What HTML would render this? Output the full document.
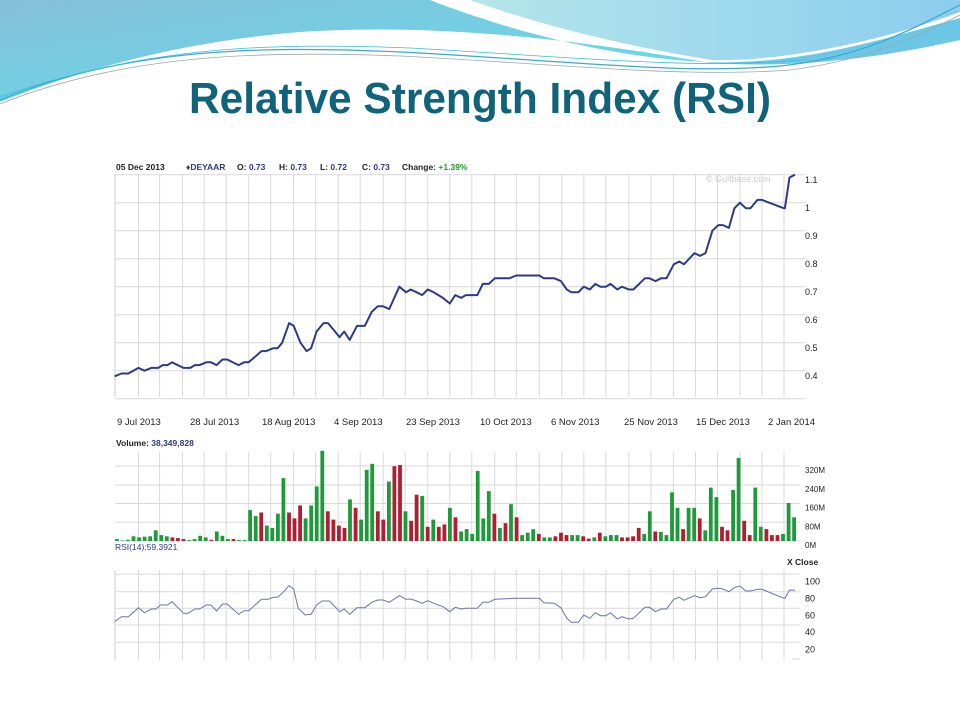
<!DOCTYPE html>
<html><head><meta charset="utf-8"><style>
html,body{margin:0;padding:0;background:#fff;}
svg{display:block;font-family:"Liberation Sans",Arial,sans-serif;}
</style></head><body>
<svg id="s" width="960" height="720" viewBox="0 0 960 720" xmlns="http://www.w3.org/2000/svg">
<defs>
<linearGradient id="g1" x1="0" y1="0" x2="1" y2="1"><stop offset="0" stop-color="#86bfd8"/><stop offset="1" stop-color="#5ee0f0"/></linearGradient>
<linearGradient id="g2" x1="0" y1="0" x2="1" y2="0"><stop offset="0" stop-color="#b4e6ea"/><stop offset="1" stop-color="#8ccdee"/></linearGradient>
</defs>
<path d="M0,0 H430 C520,35 620,58 705,62 C600,44 450,22 300,32 C180,42 80,70 0,102 Z" fill="url(#g1)"/>
<path d="M470,0 H960 V12 C880,42 780,62 712,60 C620,45 540,25 470,0 Z" fill="url(#g2)"/>
<path d="M700,62 C800,66 880,40 960,18 V40 C880,58 790,70 700,62 Z" fill="#6cc6e6"/>
<path d="M0,100 C120,50 250,45 400,52 C560,60 680,75 780,66 C860,58 910,30 960,5" fill="none" stroke="#3aa8d0" stroke-width="1.2"/>
<path d="M0,104 C120,56 250,50 400,56 C560,64 680,78 790,70 C870,60 920,35 960,15" fill="none" stroke="#9aa8b0" stroke-width="0.8"/>
<path d="M0,97 C140,48 260,42 410,48 C560,56 690,70 800,60" fill="none" stroke="#2ec0d8" stroke-width="0.8"/>
<text x="480" y="113" text-anchor="middle" font-size="44" font-weight="bold" fill="#11637a" textLength="582" lengthAdjust="spacingAndGlyphs">Relative Strength Index (RSI)</text>
<g font-size="8.5" font-weight="bold" fill="#222">
<text x="116" y="170">05 Dec 2013</text>
<text x="186" y="170" fill="#2e3a86">♦DEYAAR</text>
<text x="237" y="170">O: <tspan fill="#2e3a86">0.73</tspan></text>
<text x="279" y="170">H: <tspan fill="#2e3a86">0.73</tspan></text>
<text x="320" y="170">L: <tspan fill="#2e3a86">0.72</tspan></text>
<text x="362" y="170">C: <tspan fill="#2e3a86">0.73</tspan></text>
<text x="402" y="170">Change: <tspan fill="#1f9a2a">+1.39%</tspan></text>
</g>
<g id="chart"></g>
</svg>
<script>
var NS="http://www.w3.org/2000/svg",C=document.getElementById("chart");
function el(t,a,txt){var e=document.createElementNS(NS,t);for(var k in a)e.setAttribute(k,a[k]);if(txt!=null)e.textContent=txt;C.appendChild(e);return e;}
var zx=[62,108,158,205,253,302,350,400,448,497,545,595,643,692,740,788,838,885,935,984,1032,1080,1130,1178,1227,1275,1323,1372,1420,1468];
function X(z){return 110+z/2.178;}
var G="#d9d9d9";
zx.forEach(function(z){el("line",{x1:X(z),y1:174,x2:X(z),y2:397,stroke:G,"stroke-width":1});});
for(var v=1.1;v>0.25;v-=0.1){var y=202.7+(1.0-v)*280;el("line",{x1:115,y1:y,x2:806,y2:y,stroke:G,"stroke-width":1});}
el("line",{x1:115,y1:174,x2:115,y2:397,stroke:"#ccc"});
[["1.1",183],["1",211],["0.9",239],["0.8",267],["0.7",295],["0.6",323],["0.5",351],["0.4",379]].forEach(function(a){el("text",{x:805,y:a[1],"font-size":9,fill:"#222"},a[0]);});
el("text",{x:706,y:182,"font-size":9,fill:"#ccc"},"© Gulfbase.com");
var P=[[10,.38],[25,.39],[40,.39],[62,.41],[75,.40],[90,.41],[105,.41],[115,.42],[125,.42],[135,.43],[160,.41],[175,.41],[185,.42],[195,.42],[210,.43],[220,.43],[232,.42],[245,.44],[255,.44],[280,.42],[292,.43],[302,.43],[330,.47],[340,.47],[355,.48],[365,.48],[375,.50],[390,.57],[400,.56],[415,.50],[428,.47],[438,.48],[450,.54],[465,.57],[475,.57],[485,.55],[500,.52],[510,.54],[522,.51],[538,.56],[555,.56],[570,.61],[583,.63],[595,.63],[608,.62],[630,.70],[645,.68],[655,.69],[668,.68],[680,.67],[692,.69],[705,.68],[725,.66],[740,.64],[752,.67],[765,.66],[775,.67],[800,.67],[812,.71],[825,.71],[838,.73],[870,.73],[885,.74],[935,.74],[945,.73],[968,.73],[982,.72],[995,.69],[1005,.68],[1020,.68],[1032,.70],[1045,.69],[1057,.71],[1068,.70],[1080,.70],[1090,.71],[1105,.69],[1115,.70],[1130,.69],[1140,.69],[1165,.73],[1175,.73],[1188,.72],[1200,.73],[1212,.73],[1228,.78],[1240,.79],[1250,.78],[1273,.82],[1285,.81],[1297,.82],[1312,.90],[1325,.92],[1335,.92],[1348,.91],[1360,.98],[1372,1.00],[1385,.98],[1395,.98],[1410,1.01],[1420,1.01],[1468,.98],[1470,.98],[1480,1.09],[1492,1.10]];
el("polyline",{points:P.map(function(p){return X(p[0]).toFixed(1)+","+(202.7+(1-p[1])*280).toFixed(1);}).join(" "),fill:"none",stroke:"#2e3a86","stroke-width":2,"stroke-linejoin":"round"});
[["9 Jul 2013",117],["28 Jul 2013",190],["18 Aug 2013",262],["4 Sep 2013",334],["23 Sep 2013",406],["10 Oct 2013",480],["6 Nov 2013",551],["25 Nov 2013",624],["15 Dec 2013",696],["2 Jan 2014",768]].forEach(function(a){el("text",{x:a[1],y:425,"font-size":9.5,fill:"#222"},a[0]);});
var vt=el("text",{x:116,y:446,"font-size":8.5,"font-weight":"bold",fill:"#222"},"Volume: ");
var ts=document.createElementNS(NS,"tspan");ts.setAttribute("fill","#2e3a86");ts.textContent="38,349,828";vt.appendChild(ts);
zx.forEach(function(z){el("line",{x1:X(z),y1:452,x2:X(z),y2:541,stroke:G});});
[[466,"320M"],[485,"240M"],[503.5,"160M"],[522.3,"80M"],[541,"0M"]].forEach(function(a){el("line",{x1:115,y1:a[0],x2:800,y2:a[0],stroke:G});el("text",{x:805,y:a[0]+7,"font-size":8,fill:"#222"},a[1]);});
var V="g8 g2 g5 g20 g15 g18 g20 g45 g25 g20 r15 r12 r8 g4 g8 g22 g15 r5 g40 g22 g8 r8 g4 g4 g130 g105 r120 g65 g55 g115 g265 r120 r95 r150 g95 g150 g230 g380 r125 r90 r65 r55 g175 r140 g90 g300 g325 r125 r90 g250 r315 r320 g125 r85 r195 g190 r60 g90 r60 r70 g140 r100 g40 g50 g30 g295 g95 g210 r115 g55 r75 g155 r100 g25 g35 g50 r30 g15 g15 r20 r35 r25 g25 g25 r20 r10 g15 r35 g20 g25 g25 r15 r15 r20 r55 g30 g125 r40 g38 g25 g205 g140 r50 g140 g140 r95 g45 g225 g185 r60 r45 g215 g350 r85 r25 g225 g60 r50 r25 r25 g30 g160 g100".split(" ");
var x0=X(15),x1=X(1490),st=(x1-x0)/(V.length-1);
V.forEach(function(b,i){var hh=parseInt(b.slice(1))*19/80;el("rect",{x:(x0+i*st-1.9).toFixed(1),y:(541-hh).toFixed(1),width:3.8,height:hh.toFixed(1),fill:b[0]=="g"?"#1f9a3a":"#b01e30"});});
el("text",{x:115,y:550,"font-size":8.5,fill:"#2e3a86"},"RSI(14):59.3921");
el("text",{x:787,y:565,"font-size":8.5,"font-weight":"bold",fill:"#222"},"X Close");
zx.forEach(function(z){el("line",{x1:X(z),y1:570,x2:X(z),y2:660,stroke:G});});
el("line",{x1:115,y1:570,x2:115,y2:660,stroke:"#ccc"});
[[574.3,"100"],[591.7,"80"],[608.3,"60"],[625,"40"],[642.3,"20"]].forEach(function(a){el("line",{x1:115,y1:a[0],x2:800,y2:a[0],stroke:G});el("text",{x:805,y:a[0]+10,"font-size":9,fill:"#222"},a[1]);});
el("line",{x1:792,y1:659,x2:800,y2:659,stroke:G});
var R=[[10,560],[25,545],[40,545],[62,518],[75,533],[90,522],[100,522],[110,510],[125,510],[135,500],[160,535],[170,535],[185,522],[195,522],[210,510],[220,510],[232,528],[245,507],[255,507],[280,538],[292,527],[302,527],[330,493],[345,493],[355,487],[365,487],[375,475],[390,452],[400,462],[410,520],[425,540],[438,538],[450,510],[462,498],[478,498],[490,515],[500,530],[510,522],[522,538],[538,518],[555,518],[570,502],[583,495],[595,495],[608,502],[630,482],[645,493],[655,492],[668,498],[680,505],[692,497],[705,505],[725,515],[740,530],[752,517],[765,522],[775,520],[800,520],[812,502],[825,502],[838,493],[885,490],[935,490],[945,503],[968,505],[982,518],[995,550],[1005,562],[1020,562],[1032,540],[1045,550],[1057,533],[1068,542],[1080,542],[1090,533],[1105,552],[1115,545],[1130,552],[1140,550],[1165,517],[1175,517],[1188,530],[1200,522],[1212,522],[1228,493],[1240,487],[1250,496],[1273,482],[1285,488],[1297,485],[1312,462],[1325,460],[1335,462],[1348,470],[1360,458],[1372,453],[1385,468],[1395,468],[1410,463],[1420,463],[1468,490],[1470,490],[1480,465],[1492,466]];
el("polyline",{points:R.map(function(p){return X(p[0]).toFixed(1)+","+(435+p[1]/3).toFixed(1);}).join(" "),fill:"none",stroke:"#6a74a8","stroke-width":1});
</script>
</body></html>
